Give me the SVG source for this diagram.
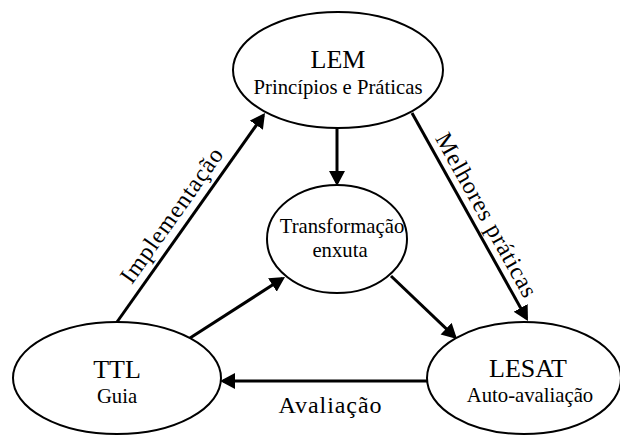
<svg xmlns="http://www.w3.org/2000/svg" width="620" height="435" viewBox="0 0 620 435" font-family="'Liberation Serif', 'Times New Roman', 'DejaVu Serif', serif">
<style>
.node ellipse{fill:#fff;stroke:#000;stroke-width:2}
text{font-family:'Liberation Serif','Times New Roman','DejaVu Serif',serif;fill:#000;text-anchor:middle}
.t{font-size:26px}
.s{font-size:20.7px}
.lbl{font-size:24px}
.edge{stroke:#000;stroke-width:3;fill:none;marker-end:url(#ah)}
</style>
<defs>
<marker id="ah" markerUnits="userSpaceOnUse" markerWidth="16" markerHeight="17" refX="12" refY="8" orient="auto">
<path d="M0,0 L15,8 L0,16 z" fill="#000"/>
</marker>
</defs>
<rect width="620" height="435" fill="#fff"/>
<g id="connectors">
<line class="edge" x1="337" y1="128" x2="337" y2="183"/>
<line class="edge" x1="117" y1="322" x2="263.3" y2="115.4"/>
<line class="edge" x1="412" y1="113" x2="526.5" y2="318.4"/>
<line class="edge" x1="190" y1="338" x2="282.5" y2="278.6"/>
<line class="edge" x1="391" y1="276" x2="454.8" y2="336.9"/>
<line class="edge" x1="427" y1="381" x2="223" y2="381"/>
<text class="lbl" transform="translate(178,220) rotate(-54.7)" textLength="160" lengthAdjust="spacing">Implementação</text>
<text class="lbl" transform="translate(479.5,218.7) rotate(60.9)" textLength="184" lengthAdjust="spacing">Melhores práticas</text>
<text class="lbl" x="330" y="413" textLength="103" lengthAdjust="spacing">Avaliação</text>
</g>
<g id="lem" class="node">
<ellipse cx="338" cy="70" rx="105" ry="58"/>
<text class="t" x="338" y="68">LEM</text>
<text class="s" x="338" y="94">Princípios e Práticas</text>
</g>
<g id="transformacao" class="node">
<ellipse cx="337" cy="239" rx="70" ry="54"/>
<text class="s" x="342" y="233">Transformação</text>
<text class="s" x="340" y="257">enxuta</text>
</g>
<g id="ttl" class="node">
<ellipse cx="117" cy="378" rx="104" ry="56"/>
<text class="t" x="117" y="378">TTL</text>
<text class="s" x="117" y="403">Guia</text>
</g>
<g id="lesat" class="node">
<ellipse cx="524" cy="378" rx="97" ry="56"/>
<text class="t" x="528" y="377">LESAT</text>
<text class="s" x="530" y="402">Auto-avaliação</text>
</g>
</svg>
